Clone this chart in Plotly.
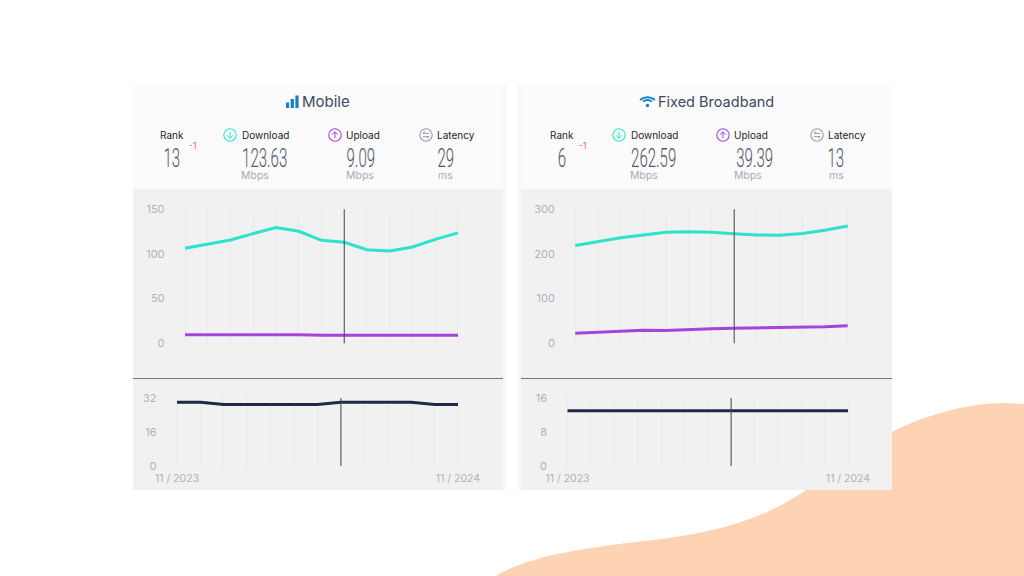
import plotly.graph_objects as go

# months along the x axis, only the two ends are labelled
month_idx = list(range(13))
month_labels = ['11 / 2023'] + [''] * 11 + ['11 / 2024']
cursor_idx = 7

mobile_download = [106.3, 111, 115.7, 122.8, 129.5, 125.4, 115.3, 113, 104.8, 103.4, 107.8, 116.4, 123.63]
mobile_upload = [9.5, 9.7, 9.8, 10, 10, 9.7, 9, 9, 8.4, 8.3, 8.4, 8.8, 9.09]
mobile_latency = [30, 30, 29, 29, 29, 29, 29, 30, 30, 30, 30, 29, 29]

fixed_download = [219, 227, 236.5, 242.5, 248.5, 250, 248.5, 245, 242.5, 241.8, 246, 253, 262.59]
fixed_upload = [22.4, 24.6, 26.9, 29, 28.4, 31.3, 32.8, 33.6, 34.3, 35, 35.8, 37.3, 39.39]
fixed_latency = [13, 13, 13, 13, 13, 13, 13, 13, 13, 13, 13, 13, 13]

W, H = 1024, 576
FONT = 'Inter'
NUM_FONT = 'Roboto'
TEAL = '#2de3c9'
PURPLE = '#a544dd'
NAVY = '#1e2a45'
GREY = '#b0b0be'
BLUE = '#1a80c8'


def px(x):
    return x / W


def py(y):
    return 1 - y / H


def path(cmds):
    out = ''
    for c, pts in cmds:
        out += c + ' '.join('%.5f,%.5f' % (px(x), py(y)) for x, y in pts) + ' '
    return out


shapes = []
annotations = []


def rect(x0, y0, x1, y1, color):
    shapes.append(dict(type='rect', xref='paper', yref='paper', x0=px(x0), x1=px(x1), y0=py(y1), y1=py(y0),
                       fillcolor=color, line_width=0, layer='below'))


def line(x0, y0, x1, y1, color, width=1.0):
    shapes.append(dict(type='line', xref='paper', yref='paper', x0=px(x0), x1=px(x1), y0=py(y0), y1=py(y1),
                       line=dict(color=color, width=width)))


def text(x, y, s, size, color='#1f2430', font=FONT, weight=400):
    annotations.append(dict(xref='paper', yref='paper', x=px(x), y=py(y), text=s, showarrow=False,
                            xanchor='center', yanchor='middle',
                            font=dict(family=font, size=size, color=color, weight=weight)))


def circle_icon(cx, cy, color, kind):
    r = 6.2
    shapes.append(dict(type='circle', xref='paper', yref='paper', x0=px(cx - r), x1=px(cx + r), y0=py(cy + r), y1=py(cy - r),
                       line=dict(color=color, width=1.1)))
    if kind == 'down':
        line(cx, cy - 3.2, cx, cy + 3.2, color)
        line(cx - 2.8, cy + 0.4, cx, cy + 3.2, color)
        line(cx + 2.8, cy + 0.4, cx, cy + 3.2, color)
    elif kind == 'up':
        line(cx, cy - 3.2, cx, cy + 3.2, color)
        line(cx - 2.8, cy - 0.4, cx, cy - 3.2, color)
        line(cx + 2.8, cy - 0.4, cx, cy - 3.2, color)
    else:
        line(cx - 3.2, cy - 1.6, cx + 3.2, cy - 1.6, color)
        line(cx - 3.2, cy + 1.6, cx + 3.2, cy + 1.6, color)
        line(cx - 3.2, cy - 1.6, cx - 0.8, cy - 3.6, color)
        line(cx + 3.2, cy + 1.6, cx + 0.8, cy + 3.6, color)


def header(title, title_x, title_size, stats):
    # stats: (label, label_x, icon_x, icon_kind, value, value_x, unit, unit_x)
    text(title_x, 101.5, title, title_size, '#3c4a5e')
    for label, lx, ix, kind, value, vx, unit, ux in stats:
        text(lx, 135, label, 10)
        if kind == 'down':
            circle_icon(ix, 135, TEAL, kind)
        elif kind == 'up':
            circle_icon(ix, 135, PURPLE, kind)
        elif kind == 'lat':
            circle_icon(ix, 135, '#9a9aac', kind)
        text(vx, 158, value, 25, '#4f566a', NUM_FONT, 300)
        if unit:
            text(ux, 175.3, unit, 10.5, '#a9a9b9')


# peach blob behind the panels
shapes.append(dict(type='path', xref='paper', yref='paper', fillcolor='#fdd3b4', line_width=0, layer='below',
                   path=path([('M', [(495.6, 576)]),
                              ('C', [(530, 556), (580, 548), (654, 540)]),
                              ('C', [(710, 533), (760, 522), (806, 490)]),
                              ('C', [(830, 470), (860, 448), (892, 432)]),
                              ('C', [(925, 415), (970, 402), (1008, 403)]),
                              ('L', [(1024, 404)]),
                              ('L', [(1024, 576)])]) + 'Z'))

# panels
rect(503, 85, 506, 490, '#f7f7f7')
rect(518, 85, 521, 490, '#f7f7f7')
for x0, x1 in [(133, 503), (521, 892)]:
    rect(x0, 85, x1, 189, '#fbfbfb')
    rect(x0, 189, x1, 490, '#f1f1f1')
    line(x0, 378.5, x1, 378.5, '#777777', 1)

header('Mobile', 326, 15, [
    ('Rank', 172, None, None, '13', 172, '', 0),
    ('Download', 265, 230, 'down', '123.63', 264, 'Mbps', 255),
    ('Upload', 363, 335, 'up', '9.09', 361, 'Mbps', 360),
    ('Latency', 456, 426, 'lat', '29', 446, 'ms', 445),
])
header('Fixed Broadband', 716, 14.5, [
    ('Rank', 562, None, None, '6', 562, '', 0),
    ('Download', 654, 619, 'down', '262.59', 653, 'Mbps', 644),
    ('Upload', 751, 723, 'up', '39.39', 754, 'Mbps', 748),
    ('Latency', 847, 817, 'lat', '13', 836, 'ms', 836),
])
text(192, 146, '-1', 8.5, '#f0558f')
text(582, 146, '-1', 8.5, '#f0558f')

# signal icon
for x0, top in [(286, 102.5), (290.7, 99), (295.4, 95.5)]:
    rect(x0, top, x0 + 3.2, 108, BLUE)
# wifi icon
for r, w in [(7.5, 2), (4.5, 2)]:
    shapes.append(dict(type='path', xref='paper', yref='paper', line=dict(color=BLUE, width=w),
                       path=path([('M', [(647.5 - r, 102 - r * 0.55 + 2)]),
                                  ('Q', [(647.5, 102 - r * 1.25 + 2), (647.5 + r, 102 - r * 0.55 + 2)])])))
shapes.append(dict(type='circle', xref='paper', yref='paper', fillcolor=BLUE, line_width=0,
                   x0=px(645.8), x1=px(649.2), y0=py(107.2), y1=py(103.8)))

fig = go.Figure()

# (x first, x last, y top, y bottom, ymax, yticks, series, show x labels, tick gap)
panels = [
    (185, 458, 209.3, 343.3, 150, [0, 50, 100, 150], [(mobile_download, TEAL), (mobile_upload, PURPLE)], False, 15),
    (177, 458, 398, 466, 32, [0, 16, 32], [(mobile_latency, NAVY)], True, 15),
    (575.3, 847.7, 209.3, 343.3, 300, [0, 100, 200, 300], [(fixed_download, TEAL), (fixed_upload, PURPLE)], False, 15),
    (567.5, 848, 398, 466, 16, [0, 8, 16], [(fixed_latency, NAVY)], True, 15),
]

layout_axes = {}
for i, (x0, x1, top, bottom, ymax, yticks, series, show_x, gap) in enumerate(panels, start=1):
    suffix = '' if i == 1 else str(i)
    for values, color in series:
        fig.add_trace(go.Scatter(x=month_idx, y=values, mode='lines', xaxis='x' + suffix, yaxis='y' + suffix,
                                 line=dict(color=color, width=3), cliponaxis=False, showlegend=False,
                                 hoverinfo='skip'))
    # small pad on the x range, plotly drops grid lines that sit right on the ends
    pad = 0.1
    step = (x1 - x0) / 12
    layout_axes['xaxis' + suffix] = dict(
        domain=[px(x0 - pad * step), px(x1 + pad * step)], range=[-pad, 12 + pad], anchor='y' + suffix,
        tickmode='array', tickvals=month_idx, ticktext=month_labels if show_x else [''] * 13,
        showgrid=True, gridcolor='#e9e9e9', gridwidth=1, zeroline=False, showline=False,
        ticks='outside', ticklen=2, tickcolor='rgba(0,0,0,0)',
        automargin=False, tickfont=dict(family=FONT, size=10.5, color=GREY))
    layout_axes['yaxis' + suffix] = dict(
        domain=[py(bottom), py(top)], range=[0, ymax], anchor='x' + suffix, tickmode='array', tickvals=yticks,
        showgrid=False, zeroline=False, showline=False, ticks='outside', ticklen=gap, tickcolor='rgba(0,0,0,0)',
        automargin=False, tickfont=dict(family=FONT, size=11, color=GREY))
    shapes.append(dict(type='line', xref='x' + suffix, yref='y' + suffix + ' domain', x0=cursor_idx, x1=cursor_idx,
                       y0=0, y1=1, line=dict(color='#444549', width=1)))

fig.update_layout(width=W, height=H, margin=dict(l=0, r=0, t=0, b=0), paper_bgcolor='white', plot_bgcolor='rgba(0,0,0,0)',
                  shapes=shapes, annotations=annotations, showlegend=False, **layout_axes)

# the big numbers are a very narrow face in the original, squeeze them to that width
squeeze = """
document.body.style.margin='0';document.body.style.overflow='hidden';
document.querySelectorAll('.annotation-text').forEach(function(t){
  if(t.style.fontFamily.indexOf('Roboto')>=0){
    t.setAttribute('textLength', t.getComputedTextLength()*0.6);
    t.setAttribute('lengthAdjust','spacingAndGlyphs');
  }
});
"""
fig.write_html('out.html', config={'displayModeBar': False}, post_script=squeeze)
